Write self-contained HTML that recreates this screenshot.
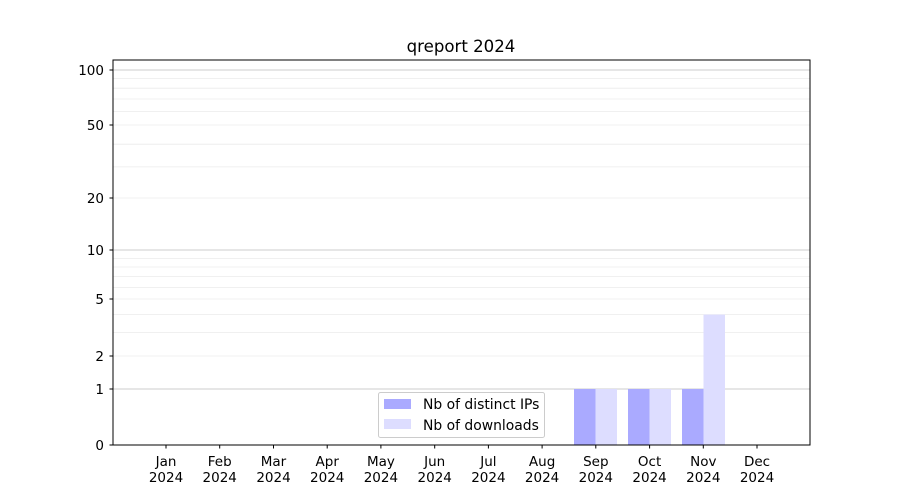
<!DOCTYPE html><html><head><meta charset="utf-8"><style>body{margin:0;background:#fff}svg{display:block;font-family:"DejaVu Sans",sans-serif}</style></head><body>
<svg width="900" height="500" xmlns="http://www.w3.org/2000/svg">
<rect width="900" height="500" fill="#fff"/>
<g stroke="#ebebeb" stroke-width="0.8">
<line x1="113" x2="810" y1="332.5" y2="332.5"/><line x1="113" x2="810" y1="314.6" y2="314.6"/>
<line x1="113" x2="810" y1="287.4" y2="287.4"/><line x1="113" x2="810" y1="276.6" y2="276.6"/>
<line x1="113" x2="810" y1="267.0" y2="267.0"/><line x1="113" x2="810" y1="258.5" y2="258.5"/>
<line x1="113" x2="810" y1="166.9" y2="166.9"/><line x1="113" x2="810" y1="144.2" y2="144.2"/>
<line x1="113" x2="810" y1="111.6" y2="111.6"/><line x1="113" x2="810" y1="99.0" y2="99.0"/>
<line x1="113" x2="810" y1="88.2" y2="88.2"/><line x1="113" x2="810" y1="78.6" y2="78.6"/>
<line x1="113" x2="810" y1="356" y2="356"/><line x1="113" x2="810" y1="299" y2="299"/>
<line x1="113" x2="810" y1="198" y2="198"/><line x1="113" x2="810" y1="125" y2="125"/>
</g>
<g stroke="#cccccc" stroke-width="1">
<line x1="113" x2="810" y1="389" y2="389"/><line x1="113" x2="810" y1="250" y2="250"/><line x1="113" x2="810" y1="70" y2="70"/>
</g>
<g>
<rect x="574" y="389" width="21.5" height="56" fill="#aaaaff"/><rect x="595.5" y="389" width="21.5" height="56" fill="#ddddff"/>
<rect x="628" y="389" width="21.5" height="56" fill="#aaaaff"/><rect x="649.5" y="389" width="21.5" height="56" fill="#ddddff"/>
<rect x="682" y="389" width="21.5" height="56" fill="#aaaaff"/><rect x="703.5" y="314.6" width="21.5" height="130.4" fill="#ddddff"/>
</g>
<rect x="113" y="60" width="697" height="385" fill="none" stroke="#000" stroke-width="1"/>
<g stroke="#000" stroke-width="1">
<line x1="109.5" x2="113" y1="445" y2="445"/><line x1="109.5" x2="113" y1="389" y2="389"/><line x1="109.5" x2="113" y1="356" y2="356"/><line x1="109.5" x2="113" y1="299" y2="299"/><line x1="109.5" x2="113" y1="250" y2="250"/><line x1="109.5" x2="113" y1="198" y2="198"/><line x1="109.5" x2="113" y1="125" y2="125"/><line x1="109.5" x2="113" y1="70" y2="70"/>
<line x1="166" x2="166" y1="445" y2="448.5"/><line x1="219.7" x2="219.7" y1="445" y2="448.5"/><line x1="273.5" x2="273.5" y1="445" y2="448.5"/><line x1="327.2" x2="327.2" y1="445" y2="448.5"/><line x1="380.9" x2="380.9" y1="445" y2="448.5"/><line x1="434.7" x2="434.7" y1="445" y2="448.5"/><line x1="488.4" x2="488.4" y1="445" y2="448.5"/><line x1="542.1" x2="542.1" y1="445" y2="448.5"/><line x1="595.8" x2="595.8" y1="445" y2="448.5"/><line x1="649.6" x2="649.6" y1="445" y2="448.5"/><line x1="703.3" x2="703.3" y1="445" y2="448.5"/><line x1="757" x2="757" y1="445" y2="448.5"/>
</g>
<g font-size="13.5" text-anchor="end" fill="#000">
<text x="104" y="450">0</text><text x="104" y="394">1</text><text x="104" y="361">2</text><text x="104" y="304">5</text><text x="104" y="255">10</text><text x="104" y="203">20</text><text x="104" y="130">50</text><text x="104" y="75">100</text>
</g>
<g font-size="13.5" text-anchor="middle" fill="#000">
<text x="166" y="466">Jan</text><text x="166" y="482">2024</text>
<text x="219.7" y="466">Feb</text><text x="219.7" y="482">2024</text>
<text x="273.5" y="466">Mar</text><text x="273.5" y="482">2024</text>
<text x="327.2" y="466">Apr</text><text x="327.2" y="482">2024</text>
<text x="380.9" y="466">May</text><text x="380.9" y="482">2024</text>
<text x="434.7" y="466">Jun</text><text x="434.7" y="482">2024</text>
<text x="488.4" y="466">Jul</text><text x="488.4" y="482">2024</text>
<text x="542.1" y="466">Aug</text><text x="542.1" y="482">2024</text>
<text x="595.8" y="466">Sep</text><text x="595.8" y="482">2024</text>
<text x="649.6" y="466">Oct</text><text x="649.6" y="482">2024</text>
<text x="703.3" y="466">Nov</text><text x="703.3" y="482">2024</text>
<text x="757" y="466">Dec</text><text x="757" y="482">2024</text>
</g>
<text x="461" y="52" font-size="16.6" text-anchor="middle">qreport 2024</text>
<rect x="378.5" y="392.5" width="166" height="45" rx="2" fill="#fff" fill-opacity="0.8" stroke="#cccccc"/>
<rect x="384" y="399" width="27" height="10" fill="#aaaaff"/>
<rect x="384" y="419" width="27" height="10" fill="#ddddff"/>
<text x="423" y="409" font-size="13.9">Nb of distinct IPs</text>
<text x="423" y="430" font-size="13.9">Nb of downloads</text>
</svg>
</body></html>
